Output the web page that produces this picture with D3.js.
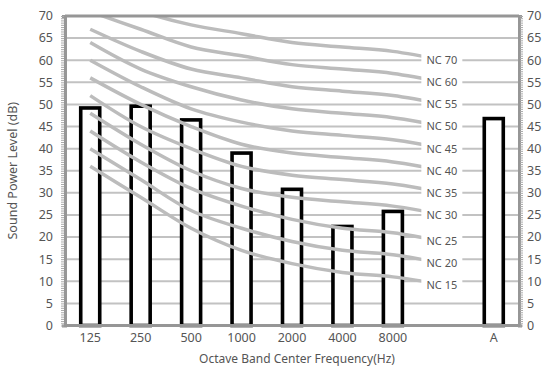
<!DOCTYPE html>
<html>
<head>
<meta charset="utf-8">
<title>Sound Power Level vs NC curves</title>
<script src="https://d3js.org/d3.v7.min.js"></script>
<style>
  body { margin: 0; background: #fff; }
  text { font-family: "Noto Sans", "Open Sans", sans-serif; fill: #555; }
</style>
</head>
<body>
<svg width="544" height="371"></svg>
<script>
// x categories (the empty one is the gap where the NC labels sit)
var categories = ["125", "250", "500", "1000", "2000", "4000", "8000", "", "A"];
// measured sound power level per band + A-weighted total
var barCats = ["125", "250", "500", "1000", "2000", "4000", "8000", "A"];
var barValues = [49.2, 49.6, 46.5, 39, 30.8, 22.4, 25.8, 46.8];

// NC curves at 125..8000 Hz (label text as printed on the chart)
var ncLabels = ["NC 70", "NC 60", "NC 55", "NC 50", "NC 45", "NC 40", "NC 35", "NC 30", "NC 25", "NC 20", "NC 15"];
var ncValues = [
  [75, 71, 68, 66, 64, 63, 62],
  [71, 67, 63, 61, 59, 58, 57],
  [67, 62, 58, 56, 54, 53, 52],
  [64, 58, 54, 51, 49, 48, 47],
  [60, 54, 49, 46, 44, 43, 42],
  [56, 50, 45, 41, 39, 38, 37],
  [52, 45, 40, 36, 34, 33, 32],
  [48, 41, 35, 31, 29, 28, 27],
  [44, 37, 31, 27, 24, 22, 21],
  [40, 33, 26, 22, 19, 17, 16],
  [36, 29, 22, 17, 14, 12, 11]
];
// level where each curve ends, under its label
var ncLabelLevel = [60, 55, 50, 45, 40, 35, 30, 25, 19, 14, 9.2];

var yTicks = d3.range(0, 71, 5);

var svg = d3.select("svg");
var mLeft = 65, mRight = 519, mTop = 16, mBottom = 325.5;

var x = d3.scaleBand().domain(categories).range([mLeft, mRight]);
var y = d3.scaleLinear().domain([0, 70]).range([mBottom, mTop]);
var cx = function(c) { return x(c) + x.bandwidth() / 2; };

svg.append("defs").append("clipPath").attr("id", "plotclip")
  .append("rect").attr("x", mLeft).attr("y", mTop).attr("width", mRight - mLeft).attr("height", mBottom - mTop);

// gridlines
svg.append("g").selectAll("line")
  .data(yTicks.filter(function(d) { return d > 0 && d < 70; }))
  .enter().append("line")
    .attr("x1", mLeft).attr("x2", mRight)
    .attr("y1", function(d) { return y(d); }).attr("y2", function(d) { return y(d); })
    .attr("stroke", "#c2c2c2").attr("stroke-width", 2);

// bars
var bw = 19;
svg.append("g").selectAll("rect")
  .data(barCats)
  .enter().append("rect")
    .attr("x", function(d) { return cx(d) - bw / 2; })
    .attr("y", function(d, i) { return y(barValues[i]); })
    .attr("width", bw)
    .attr("height", function(d, i) { return y(0) - y(barValues[i]); })
    .attr("fill", "#fff")
    .attr("stroke", "#000")
    .attr("stroke-width", 3.6);

// NC curves
var freqCats = categories.slice(0, 7);
var line = d3.line()
    .x(function(d) { return d[0]; })
    .y(function(d) { return y(d[1]); })
    .curve(d3.curveCatmullRom.alpha(0.5));

svg.append("g").attr("clip-path", "url(#plotclip)")
  .selectAll("path")
  .data(ncValues)
  .enter().append("path")
    .attr("d", function(vals, i) {
      var pts = vals.map(function(v, j) { return [cx(freqCats[j]), v]; });
      pts.push([cx(""), ncLabelLevel[i]]);
      return line(pts);
    })
    .attr("fill", "none")
    .attr("stroke", "#bcbcbc")
    .attr("stroke-width", 3.5);

// NC labels with white box
var lab = svg.append("g").selectAll("g")
  .data(ncLabels)
  .enter().append("g")
    .attr("transform", function(d, i) { return "translate(" + (cx("") - 1.5) + "," + y(ncLabelLevel[i]) + ")"; });
lab.append("rect")
  .attr("x", -20.5).attr("y", -7).attr("width", 41).attr("height", 14)
  .attr("fill", "#fff");
lab.append("text")
  .attr("text-anchor", "middle")
  .attr("dy", "0.35em")
  .attr("font-size", 11)
  .text(function(d) { return d; });

// frame
var frame = svg.append("g").attr("stroke", "#969696").attr("stroke-width", 3).attr("fill", "none");
frame.append("line").attr("x1", mLeft).attr("x2", mRight).attr("y1", mTop).attr("y2", mTop);
frame.append("line").attr("x1", mLeft).attr("x2", mRight).attr("y1", mBottom).attr("y2", mBottom);

// y axes with minor ticks
var yLeft = d3.axisLeft(y).tickValues(d3.range(0, 70.01, 0.5)).tickSize(3).tickFormat("");
var yRight = d3.axisRight(y).tickValues(d3.range(0, 70.01, 0.5)).tickSize(3).tickFormat("");
[[yLeft, mLeft], [yRight, mRight]].forEach(function(a) {
  var g = svg.append("g").attr("transform", "translate(" + a[1] + ",0)").call(a[0]);
  g.select(".domain").attr("stroke", "#969696").attr("stroke-width", 3);
  g.selectAll(".tick line").attr("stroke", "#aaa").attr("stroke-width", 1)
    .attr("transform", a[1] === mLeft ? "translate(-1,0)" : "translate(1,0)");
});

svg.append("g").selectAll("text")
  .data(yTicks).enter().append("text")
    .attr("x", mLeft - 12).attr("y", function(d) { return y(d); })
    .attr("dy", "0.35em").attr("text-anchor", "end").attr("font-size", 12.5)
    .text(function(d) { return d; });
svg.append("g").selectAll("text")
  .data(yTicks).enter().append("text")
    .attr("x", mRight + 8).attr("y", function(d) { return y(d); })
    .attr("dy", "0.35em").attr("text-anchor", "start").attr("font-size", 12.5)
    .text(function(d) { return d; });

// x axis labels
svg.append("g").selectAll("text")
  .data(categories).enter().append("text")
    .attr("x", function(d) { return cx(d); })
    .attr("y", 342)
    .attr("text-anchor", "middle").attr("font-size", 12.5)
    .text(function(d) { return d; });

svg.append("text")
  .attr("x", 297).attr("y", 363)
  .attr("text-anchor", "middle").attr("font-size", 12)
  .text("Octave Band Center Frequency(Hz)");

svg.append("text")
  .attr("transform", "translate(17," + ((mTop + mBottom) / 2) + ") rotate(-90)")
  .attr("text-anchor", "middle").attr("font-size", 12.5)
  .text("Sound Power Level (dB)");
</script>
</body>
</html>
